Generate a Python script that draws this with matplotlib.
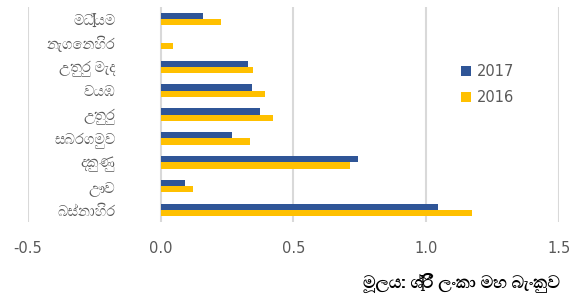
import matplotlib
matplotlib.use("Agg")
import matplotlib.pyplot as plt
from matplotlib import font_manager
import numpy as np

# provinces, top to bottom as in the chart
provinces = ["මධ්‍යම", "නැගෙනහිර", "උතුරු මැද", "වයඹ", "උතුරු",
             "සබරගමුව", "දකුණු", "ඌව", "බස්නාහිර"]
vals_2017 = [0.16, 0.0, 0.33, 0.342, 0.374, 0.27, 0.744, 0.09, 1.043]
vals_2016 = [0.226, 0.046, 0.347, 0.394, 0.423, 0.335, 0.714, 0.123, 1.173]
xticks = [-0.5, 0.0, 0.5, 1.0, 1.5]
source = "මූලය: ශ්‍රී ලංකා මහ බැංකුව"

# look for any installed font that has sinhala glyphs
sin_fonts = [f.name for f in font_manager.fontManager.ttflist
             if "sinhala" in f.name.lower() or f.name in ("Iskoola Pota", "FreeSerif", "FreeSans")]
fams = sorted(set(sin_fonts)) + ["DejaVu Sans"]

plt.rcParams["font.family"] = ["DejaVu Sans"]

fig = plt.figure(figsize=(5.84, 2.96), dpi=100)
ax = fig.add_axes([0.048, 0.25, 0.909, 0.726])

y = np.arange(len(provinces))
h = 0.26
ax.barh(y - h / 2, vals_2017, height=h, color="#2f5597", label="2017")
ax.barh(y + h / 2, vals_2016, height=h, color="#ffc000", label="2016")

ax.set_ylim(len(provinces) - 0.5, -0.5)
ax.set_xlim(-0.5, 1.5)
ax.set_xticks(xticks)
ax.set_xticklabels([f"{v:.1f}" for v in xticks], color="#595959", fontsize=10.5)
ax.grid(axis="x", color="#d9d9d9", linewidth=1.5)
ax.set_axisbelow(True)
for s in ax.spines.values():
    s.set_visible(False)
ax.tick_params(axis="x", length=0, pad=14)

ax.set_yticks(y)
ax.set_yticklabels(provinces, family=fams, fontsize=10.5, color="#595959")
ax.tick_params(axis="y", length=0, pad=-63)

leg = ax.legend(loc="center left", bbox_to_anchor=(0.79, 0.64), frameon=False,
                handlelength=0.75, handleheight=0.75, handletextpad=0.4,
                labelspacing=0.75, fontsize=10.5)
for t in leg.get_texts():
    t.set_color("#595959")

fig.text(0.958, 0.045, source, ha="right", va="center", family=fams,
         fontsize=12.5, fontweight="bold", color="black")

fig.savefig("out.png", dpi=100)
